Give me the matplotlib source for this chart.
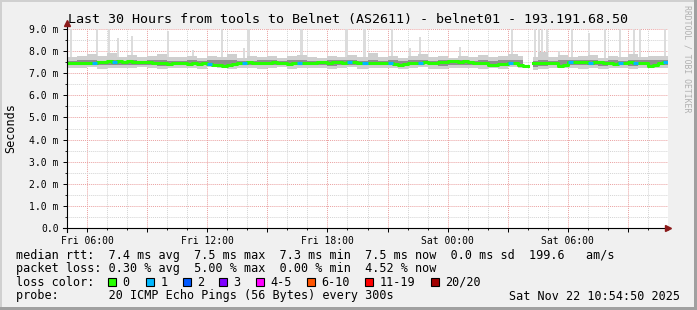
import numpy as np
import matplotlib
matplotlib.use('Agg')
from matplotlib import pyplot as plt
from matplotlib.lines import Line2D
from matplotlib.patches import Rectangle

# ---- data (hours after Fri 05:00, 15 min bins) ----
median_ms = [7.46, 7.44, 7.47, 7.45, 7.46, 7.48,
             7.50, 7.53, 7.55, 7.52, 7.54, 7.50, 7.56, 7.52, 7.49, 7.53, 7.51, 7.48,
             7.44, 7.46, 7.43, 7.45, 7.47, 7.44, 7.42, 7.45, 7.43, 7.44, 7.40, 7.38,
             7.36, 7.34, 7.37, 7.40,
             7.44, 7.47, 7.49, 7.46, 7.48, 7.45, 7.47, 7.50, 7.46, 7.44, 7.43, 7.46, 7.48, 7.45, 7.47, 7.46,
             7.49, 7.51, 7.48, 7.52, 7.50, 7.47, 7.51, 7.49, 7.46, 7.47,
             7.46, 7.45, 7.47, 7.44, 7.46, 7.40,
             7.38, 7.41,
             7.47, 7.48, 7.46, 7.49, 7.47, 7.48, 7.50, 7.52,
             7.54, 7.55, 7.53, 7.54, 7.52, 7.47,
             7.45, 7.46,
             7.39, 7.37, 7.40, 7.42,
             7.47, 7.45, 7.36,
             7.32, np.nan,
             7.45, 7.47, 7.46, 7.44, 7.46,
             7.32, 7.35,
             7.49, 7.51, 7.50, 7.52, 7.48, 7.50, 7.49,
             7.44, 7.46, 7.42, 7.45,
             7.47, 7.49, 7.48, 7.46, 7.47,
             7.34, 7.36,
             7.47, 7.52]

# bins with lost pings (count of 20)
loss_bins = [5, 9, 28, 35, 46, 56, 59, 64, 70, 88, 100, 104, 110, 113, 119]
loss_counts = [1, 1, 1, 1, 1, 1, 1, 1, 1, 1, 1, 1, 1, 1, 1]

# smoke envelopes, 30 min bins
smoke_hi_out = [7.74, 7.80, 7.86, 7.76, 7.90, 7.75, 7.82, 7.72, 7.78, 7.88,
                7.74, 7.72, 7.80, 7.70, 7.77, 7.74, 7.85, 7.71, 7.78, 7.73,
                7.80, 7.70, 7.76, 7.84, 7.74, 7.69, 7.77, 7.73, 7.82, 7.72,
                7.92, 7.75, 7.79, 7.71, 7.78, 7.86, 7.72, 7.76, 7.70, 7.80,
                7.75, 7.84, 7.73, 7.77, 7.88, 7.79, 7.72, 7.95, 7.74, 7.82,
                7.73, 7.78, 7.84, 7.71, 7.80, 7.75, 7.86, 7.73, 7.79, 7.77]
smoke_lo_out = [7.24, 7.22, 7.26, 7.21, 7.25, 7.23, 7.22, 7.27, 7.24, 7.20,
                7.22, 7.25, 7.23, 7.21, 7.26, 7.24, 7.19, 7.22, 7.25, 7.21,
                7.23, 7.26, 7.20, 7.24, 7.22, 7.25, 7.20, 7.23, 7.26, 7.21,
                7.24, 7.22, 7.25, 7.20, 7.23, 7.27, 7.21, 7.19, 7.22, 7.24,
                7.25, 7.21, 7.23, 7.20, 7.26, 7.22, 7.16, 7.20, 7.24, 7.22,
                7.25, 7.21, 7.23, 7.19, 7.24, 7.22, 7.20, 7.25, 7.23, 7.24]
smoke_hi_in = [7.56, 7.59, 7.62, 7.57, 7.60, 7.57, 7.61, 7.56, 7.58, 7.59,
               7.55, 7.57, 7.60, 7.56, 7.58, 7.59, 7.62, 7.56, 7.57, 7.58,
               7.60, 7.55, 7.58, 7.61, 7.57, 7.56, 7.59, 7.58, 7.62, 7.57,
               7.60, 7.56, 7.59, 7.57, 7.58, 7.61, 7.56, 7.58, 7.55, 7.59,
               7.57, 7.60, 7.56, 7.58, 7.61, 7.59, 7.56, 7.62, 7.57, 7.59,
               7.58, 7.60, 7.61, 7.56, 7.59, 7.57, 7.60, 7.58, 7.59, 7.61]
smoke_lo_in = [7.38, 7.37, 7.39, 7.36, 7.38, 7.37, 7.35, 7.39, 7.38, 7.34,
               7.36, 7.38, 7.37, 7.35, 7.39, 7.37, 7.34, 7.36, 7.38, 7.35,
               7.37, 7.39, 7.35, 7.38, 7.36, 7.38, 7.34, 7.37, 7.39, 7.35,
               7.38, 7.36, 7.39, 7.35, 7.37, 7.40, 7.35, 7.33, 7.36, 7.38,
               7.39, 7.35, 7.37, 7.34, 7.38, 7.36, 7.28, 7.34, 7.38, 7.36,
               7.39, 7.35, 7.37, 7.33, 7.38, 7.36, 7.32, 7.39, 7.37, 7.38]

# single high pings (hour, rtt ms)
spike_t = [0.15, 1.45, 2.05, 2.5, 3.2, 5.0, 6.25, 7.7, 8.8, 9.0, 11.65, 13.9, 14.8,
           16.15, 17.05, 17.55, 19.55, 22.15, 23.3, 23.5, 23.65, 23.9, 24.5, 25.15,
           26.0, 26.8, 27.55, 28.25, 28.55, 29.8]
spike_top = [9.3, 9.3, 9.3, 8.6, 8.7, 8.9, 8.05, 9.3, 8.15, 9.3, 9.3, 9.3, 9.3,
             9.3, 8.15, 8.65, 8.2, 9.3, 9.3, 9.3, 9.3, 9.3, 8.0, 9.3,
             8.8, 9.3, 9.3, 9.3, 9.3, 9.3]

x_ticks = [1, 7, 13, 19, 25]
x_labels = ['Fri 06:00', 'Fri 12:00', 'Fri 18:00', 'Sat 00:00', 'Sat 06:00']
y_labels = ['0.0', '1.0 m', '2.0 m', '3.0 m', '4.0 m', '5.0 m', '6.0 m', '7.0 m', '8.0 m', '9.0 m']

loss_names = ['0', '1', '2', '3', '4-5', '6-10', '11-19', '20/20']
loss_colors = ['#26ff00', '#00b8ff', '#0059ff', '#7e00ff', '#ff00ff', '#ff5500', '#ff0000', '#a00000']

title = 'Last 30 Hours from tools to Belnet (AS2611) - belnet01 - 193.191.68.50'
row_rtt = 'median rtt:  7.4 ms avg  7.5 ms max  7.3 ms min  7.5 ms now  0.0 ms sd  199.6   am/s'
row_loss = 'packet loss: 0.30 % avg  5.00 % max  0.00 % min  4.52 % now'
row_probe = 'probe:       20 ICMP Echo Pings (56 Bytes) every 300s'
stamp = 'Sat Nov 22 10:54:50 2025'

#%% figure
W, H = 697, 310
mono = 'DejaVu Sans Mono'
def fx(x):
    return x / W
def fy(y):
    return 1 - y / H

fig = plt.figure(figsize=(W/100, H/100), dpi=100, facecolor='#f0f0f0')

# frame
fig.add_artist(Rectangle((0, 0), 2/W, 1, transform=fig.transFigure, color='#d0d0d0', lw=0))
fig.add_artist(Rectangle((0, 1-2/H), 1, 2/H, transform=fig.transFigure, color='#d0d0d0', lw=0))
fig.add_artist(Rectangle((1-3/W, 0), 3/W, 1, transform=fig.transFigure, color='#a0a0a0', lw=0))
fig.add_artist(Rectangle((0, 0), 1, 3/H, transform=fig.transFigure, color='#a0a0a0', lw=0))

ax = fig.add_axes([fx(67), fy(228), 601/W, 199/H])
ax.set_facecolor('white')
ax.set_xlim(0, 30)
ax.set_ylim(0, 9)
for s in ax.spines.values():
    s.set_visible(False)

ax.set_xticks(np.arange(1, 30, 3))
ax.set_xticklabels([x_labels[x_ticks.index(v)] if v in x_ticks else '' for v in range(1, 30, 3)])
ax.set_xticks(np.arange(0, 31, 1), minor=True)
ax.set_yticks(np.arange(0, 10, 1))
ax.set_yticklabels(y_labels)
ax.set_yticks(np.arange(0.5, 9, 1), minor=True)
ax.set_axisbelow(True)
ax.grid(which='minor', color='#d4d4d4', linestyle=(0, (1, 1)), linewidth=0.7)
ax.grid(which='major', color='#eaa0a0', linestyle=(0, (1, 1)), linewidth=0.7)
ax.tick_params(which='major', length=3, width=0.7, pad=3, labelsize=7, labelfontfamily=mono, color='black')
ax.tick_params(which='minor', length=1.5, width=0.6, color='black')
ax.tick_params(axis='x', pad=2.5)

# data
median = np.array(median_ms, dtype=float)
t = np.arange(len(median)) * 0.25
t_edge = np.append(t, 30)

lo_out = np.repeat(smoke_lo_out, 2).astype(float)
hi_out = np.repeat(smoke_hi_out, 2).astype(float)
lo_in = np.repeat(smoke_lo_in, 2).astype(float)
hi_in = np.repeat(smoke_hi_in, 2).astype(float)
for arr in (lo_out, hi_out, lo_in, hi_in):
    arr[np.isnan(median)] = np.nan

ax.bar(spike_t, np.array(spike_top) - 7.3, bottom=7.3, width=0.11, align='edge', color='#dcdcdc', lw=0, zorder=1)
ax.fill_between(t_edge, np.append(lo_out, lo_out[-1]), np.append(hi_out, hi_out[-1]), step='post', color='#cfcfcf', lw=0, zorder=2)
ax.fill_between(t_edge, np.append(lo_in, lo_in[-1]), np.append(hi_in, hi_in[-1]), step='post', color='#8e8e8e', lw=0, zorder=3)
ax.step(t_edge, np.append(median, median[-1]), where='post', color=loss_colors[0], lw=2.2, zorder=5)
for b, c in zip(loss_bins, loss_counts):
    ax.hlines(median[b], t[b], t[b] + 0.25, color=loss_colors[c], lw=2.2, zorder=6)

# axis lines with arrows
fig.add_artist(Line2D([fx(67), fx(67)], [fy(232), fy(24)], color='black', lw=0.8))
fig.add_artist(Line2D([fx(63), fx(667)], [fy(228), fy(228)], color='black', lw=0.8))
fig.add_artist(Line2D([fx(67)], [fy(23)], marker='^', markersize=4.5, color='#8b1a1a', lw=0))
fig.add_artist(Line2D([fx(668)], [fy(228)], marker='>', markersize=4.5, color='#8b1a1a', lw=0))

# texts
fig.text(0.5, fy(19), title, ha='center', va='center', fontsize=9.6, family=mono)
fig.text(fx(11), fy(128.5), 'Seconds', rotation=90, ha='center', va='center', fontsize=8.5, family=mono)
fig.text(fx(687), fy(5), 'RRDTOOL / TOBI OETIKER', rotation=-90, ha='center', va='top', fontsize=5.9, family=mono, color='#b0b0b0')

fs = 8.5
fig.text(fx(16), fy(255), row_rtt, ha='left', va='center', fontsize=fs, family=mono)
fig.text(fx(16), fy(268.5), row_loss, ha='left', va='center', fontsize=fs, family=mono)
fig.text(fx(16), fy(282), 'loss color:', ha='left', va='center', fontsize=fs, family=mono)
fig.text(fx(16), fy(296), row_probe, ha='left', va='center', fontsize=fs, family=mono)
fig.text(fx(680), fy(296), stamp, ha='right', va='center', fontsize=fs, family=mono)

box_x = [108, 146, 183, 219, 256, 307, 365, 431]
for bx, name, col in zip(box_x, loss_names, loss_colors):
    fig.add_artist(Rectangle((fx(bx), fy(286)), 8/W, 8/H, transform=fig.transFigure,
                             facecolor=col, edgecolor='black', lw=0.8))
    fig.text(fx(bx + 14.5), fy(282), name, ha='left', va='center', fontsize=fs, family=mono)

plt.savefig('out.png', dpi=100, facecolor=fig.get_facecolor())
